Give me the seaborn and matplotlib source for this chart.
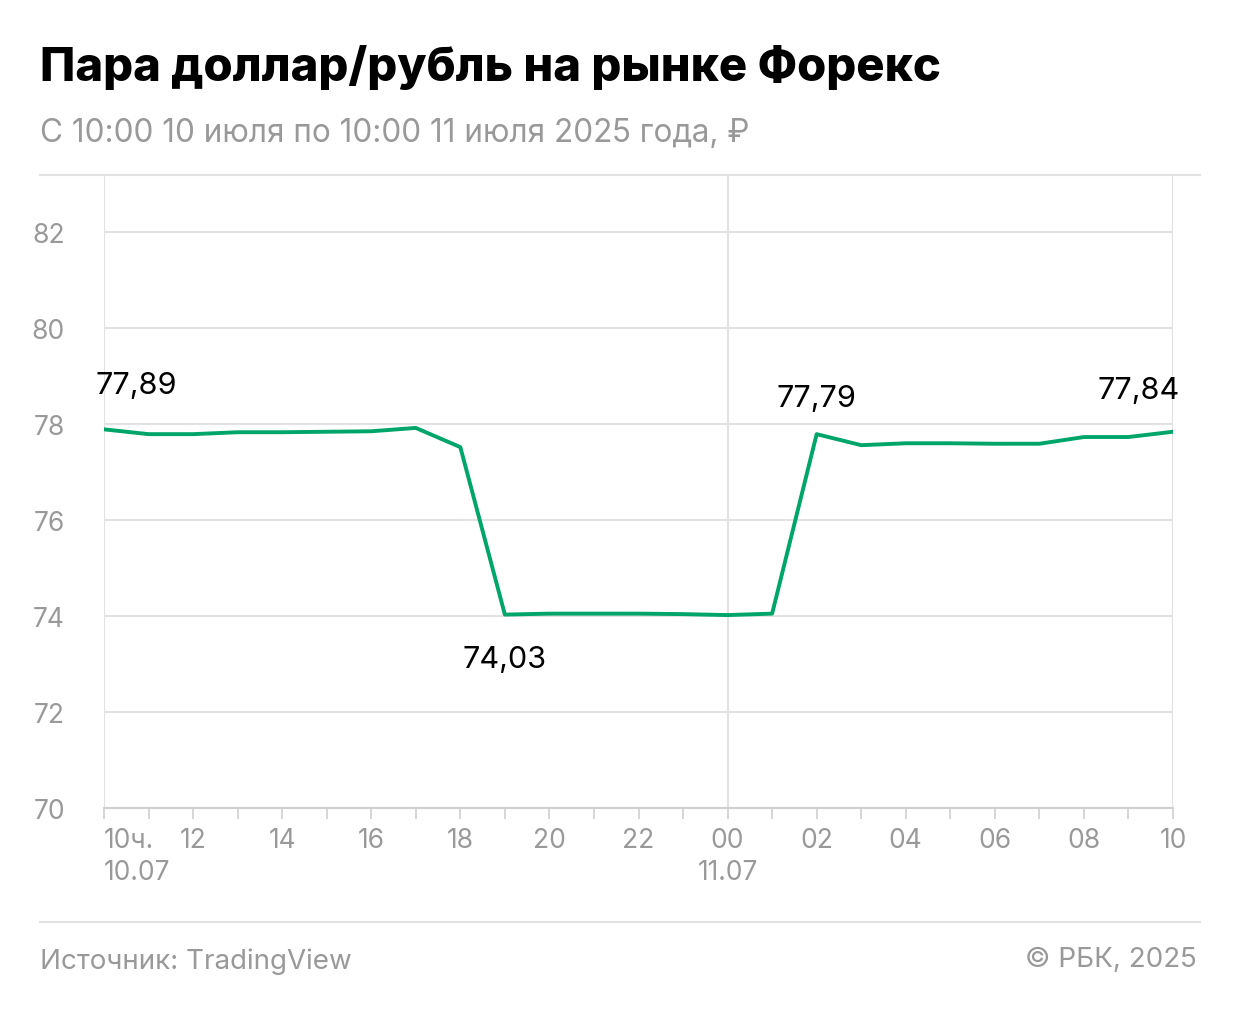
import matplotlib
matplotlib.use("Agg")
import matplotlib.pyplot as plt
import matplotlib.transforms as mtransforms
import seaborn as sns
import pandas as pd
from matplotlib.lines import Line2D

plt.rcParams["font.family"] = "Inter"

# Почасовые значения с 10:00 10.07 по 10:00 11.07
hours = list(range(25))
rates = [77.89, 77.79, 77.79, 77.83, 77.83, 77.84, 77.85, 77.92, 77.52,
         74.03, 74.05, 74.05, 74.05, 74.04, 74.02, 74.05,
         77.79, 77.56, 77.60, 77.60, 77.59, 77.59, 77.73, 77.73, 77.84]
tick_pos = [0, 2, 4, 6, 8, 10, 12, 14, 16, 18, 20, 22, 24]
tick_labels = ["10ч.\n10.07", "12", "14", "16", "18", "20", "22", "00\n11.07",
               "02", "04", "06", "08", "10"]
y_ticks = [70, 72, 74, 76, 78, 80, 82]
annotations = [(0, 77.89, "77,89"), (9, 74.03, "74,03"),
               (16, 77.79, "77,79"), (24, 77.84, "77,84")]

df = pd.DataFrame({"hour": hours, "rate": rates})

fig = plt.figure(figsize=(12.4, 10.2), dpi=100)
ax = fig.add_axes([104 / 1240, 1 - 809 / 1020, (1173 - 104) / 1240, (809 - 176) / 1020])

sns.lineplot(data=df, x="hour", y="rate", ax=ax, color="#00a56a", linewidth=2.8)

ax.set_xlim(0, 24)
ax.set_ylim(70, 83.19)
ax.set_yticks(y_ticks)
ax.set_yticklabels([str(v) for v in y_ticks])
ax.set_xticks(tick_pos)
ax.set_xticklabels(tick_labels, linespacing=1.3)
ax.set_xticks(hours, minor=True)
ax.set_xlabel("")
ax.set_ylabel("")

first = ax.get_xticklabels()[0]
first.set_ha("left")
first.set_transform(first.get_transform() +
                    mtransforms.ScaledTranslation(-12 / 100, 0, fig.dpi_scale_trans))

for v in y_ticks[1:]:
    ax.axhline(v, color="#e2e2e2", linewidth=1.5, zorder=0)
for v in [0, 14, 24]:
    ax.axvline(v, color="#e2e2e2", linewidth=1.5, zorder=0)

for s in ["top", "right", "left"]:
    ax.spines[s].set_visible(False)
ax.spines["bottom"].set_color("#d0d0d0")
ax.spines["bottom"].set_linewidth(1.5)
ax.tick_params(axis="y", length=0, labelsize=19, labelcolor="#999999", pad=28)
ax.tick_params(axis="x", which="both", length=8, color="#d0d0d0", width=1.2,
               labelsize=19, labelcolor="#999999", pad=6)
ax.set_facecolor("white")

for x, y, t in annotations:
    if t == "74,03":
        ax.annotate(t, (x, y), xytext=(0, -42), textcoords="offset points",
                    ha="center", va="bottom", fontsize=22)
    elif x == 0:
        ax.annotate(t, (x, y), xytext=(-6, 22), textcoords="offset points",
                    ha="left", va="bottom", fontsize=22)
    elif x == 24:
        ax.annotate(t, (x, y), xytext=(5, 20), textcoords="offset points",
                    ha="right", va="bottom", fontsize=22)
    else:
        ax.annotate(t, (x, y), xytext=(0, 16), textcoords="offset points",
                    ha="center", va="bottom", fontsize=22)

fig.text(40 / 1240, 1 - 68 / 1020, "Пара доллар/рубль на рынке Форекс",
         fontsize=34, fontweight="heavy", va="center")
fig.text(40 / 1240, 1 - 134 / 1020, "С 10:00 10 июля по 10:00 11 июля 2025 года, ₽",
         fontsize=22.7, color="#999999", va="center")
fig.add_artist(Line2D([40 / 1240, 1200 / 1240], [1 - 176 / 1020] * 2, color="#e2e2e2", lw=1.5))
fig.add_artist(Line2D([40 / 1240, 1200 / 1240], [1 - 923 / 1020] * 2, color="#e2e2e2", lw=1.5))
fig.text(40 / 1240, 1 - 962 / 1020, "Источник: TradingView",
         fontsize=20, color="#999999", va="center")
fig.text(1197 / 1240, 1 - 960 / 1020, "© РБК, 2025",
         fontsize=20, color="#999999", va="center", ha="right")

fig.savefig("out.png", dpi=100, facecolor="white")
